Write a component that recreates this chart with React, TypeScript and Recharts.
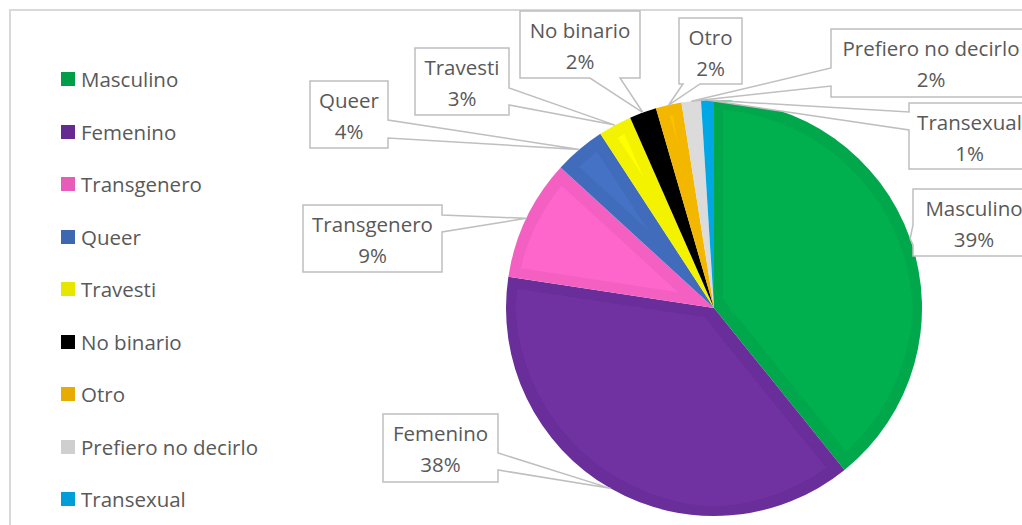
import { PieChart, Pie, Cell, Legend } from 'recharts';

const categories = [
  'Masculino',
  'Femenino',
  'Transgenero',
  'Queer',
  'Travesti',
  'No binario',
  'Otro',
  'Prefiero no decirlo',
  'Transexual',
];
const shares = [39.2, 38.2, 9.4, 4.0, 2.6, 2.1, 2.0, 1.5, 1.0];
const shareLabels = ['39%', '38%', '9%', '4%', '3%', '2%', '2%', '2%', '1%'];
const fills = [
  '#00B050',
  '#7030A0',
  '#FF66CC',
  '#4472C4',
  '#FFFF00',
  '#000000',
  '#FFC000',
  '#E7E6E6',
  '#00B0F0',
];

const data = categories.map((name, i) => ({ name, value: shares[i] }));

// callout boxes (page coords) and which side the pointer leaves from
const calloutBoxes = [
  { x: 913, y: 189, w: 122, h: 67, side: 'left', b1: 36, b2: 56 },
  { x: 383, y: 414, w: 115, h: 68, side: 'right', b1: 39, b2: 56 },
  { x: 303, y: 205, w: 139, h: 67, side: 'right', b1: 10, b2: 27 },
  { x: 310, y: 81, w: 78, h: 67, side: 'right', b1: 39, b2: 57 },
  { x: 415, y: 48, w: 94, h: 67, side: 'right', b1: 40, b2: 57 },
  { x: 520, y: 11, w: 120, h: 67, side: 'bottom', b1: 70, b2: 100 },
  { x: 679, y: 18, w: 63, h: 66, side: 'bottom', b1: 4, b2: 21 },
  { x: 831, y: 29, w: 200, h: 68, side: 'left', b1: 39, b2: 57 },
  { x: 909, y: 103, w: 121, h: 66, side: 'left', b1: 9, b2: 27 },
];

const FONT = '"Open Sans", sans-serif';
const TEXT = '#595959';

function darken(hex: string, k = 0.9) {
  const n = parseInt(hex.slice(1), 16);
  const r = Math.round(((n >> 16) & 255) * k);
  const g = Math.round(((n >> 8) & 255) * k);
  const b = Math.round((n & 255) * k);
  return `rgb(${r},${g},${b})`;
}

const renderCallout = (props: any) => {
  const { cx, cy, midAngle, outerRadius, index } = props;
  const RAD = Math.PI / 180;
  const tx = cx + outerRadius * Math.cos(-midAngle * RAD);
  const ty = cy + outerRadius * Math.sin(-midAngle * RAD);
  const { x, y, w, h, side, b1, b2 } = calloutBoxes[index];
  let d = '';
  if (side === 'left') {
    d = `M${x},${y} H${x + w} V${y + h} H${x} V${y + b2} L${tx},${ty} L${x},${y + b1} Z`;
  } else if (side === 'right') {
    d = `M${x},${y} H${x + w} V${y + b1} L${tx},${ty} L${x + w},${y + b2} V${y + h} H${x} Z`;
  } else {
    d = `M${x},${y} H${x + w} V${y + h} H${x + b2} L${tx},${ty} L${x + b1},${y + h} H${x} Z`;
  }
  const mx = x + w / 2;
  return (
    <g>
      <path d={d} fill="#fff" stroke="#BFBFBF" strokeWidth={1.5} />
      <text x={mx} y={y + 27} textAnchor="middle" fontFamily={FONT} fontSize={20.5} fill={TEXT}>
        {categories[index]}
      </text>
      <text x={mx} y={y + 58} textAnchor="middle" fontFamily={FONT} fontSize={20.5} fill={TEXT}>
        {shareLabels[index]}
      </text>
    </g>
  );
};

const renderLegend = ({ payload }: any) => {
  const items = [...(payload || [])].sort(
    (a: any, b: any) => categories.indexOf(a.value) - categories.indexOf(b.value)
  );
  return (
    <ul style={{ listStyle: 'none', margin: 0, padding: 0 }}>
      {items.map((item: any) => {
        const k = categories.indexOf(item.value);
        return (
          <li key={item.value} style={{ display: 'flex', alignItems: 'center', height: 52.5 }}>
            <span
              style={{ width: 14, height: 14, background: darken(fills[k]), marginRight: 6, flexShrink: 0 }}
            />
            <span style={{ fontSize: 20.5, color: TEXT, fontFamily: FONT, whiteSpace: 'nowrap' }}>
              {item.value}
            </span>
          </li>
        );
      })}
    </ul>
  );
};

export default function App() {
  return (
    <div
      style={{
        position: 'fixed',
        left: 0,
        top: 0,
        width: 1022,
        height: 525,
        overflow: 'hidden',
        background: '#fff',
        fontFamily: FONT,
      }}
    >
      <div
        style={{
          position: 'absolute',
          left: 9,
          top: 9,
          width: 1040,
          height: 540,
          borderLeft: '2px solid #D9D9D9',
          borderTop: '2px solid #D9D9D9',
        }}
      />
      <div style={{ position: 'absolute', left: 0, top: 0 }}>
        <PieChart width={1022} height={525} margin={{ top: 0, right: 0, bottom: 0, left: 0 }}>
          <defs>
            <filter id="bevel" x="-10%" y="-10%" width="120%" height="120%">
              <feComponentTransfer in="SourceGraphic" result="dark">
                <feFuncR type="linear" slope={0.9} />
                <feFuncG type="linear" slope={0.9} />
                <feFuncB type="linear" slope={0.9} />
              </feComponentTransfer>
              <feMorphology in="SourceGraphic" operator="erode" radius={9} result="inner" />
              <feMerge>
                <feMergeNode in="dark" />
                <feMergeNode in="inner" />
              </feMerge>
            </filter>
          </defs>
          <Legend
            content={renderLegend}
            layout="vertical"
            align="center"
            verticalAlign="middle"
            wrapperStyle={{ left: 61, top: 52.75, width: 260 }}
          />
          <Pie
            data={data}
            dataKey="value"
            nameKey="name"
            cx={714}
            cy={308}
            outerRadius={208}
            startAngle={90}
            endAngle={-270}
            stroke="none"
            label={renderCallout}
            labelLine={false}
            isAnimationActive={false}
          >
            {data.map((d, i) => (
              <Cell key={d.name} fill={fills[i]} filter="url(#bevel)" />
            ))}
          </Pie>
        </PieChart>
      </div>
    </div>
  );
}
